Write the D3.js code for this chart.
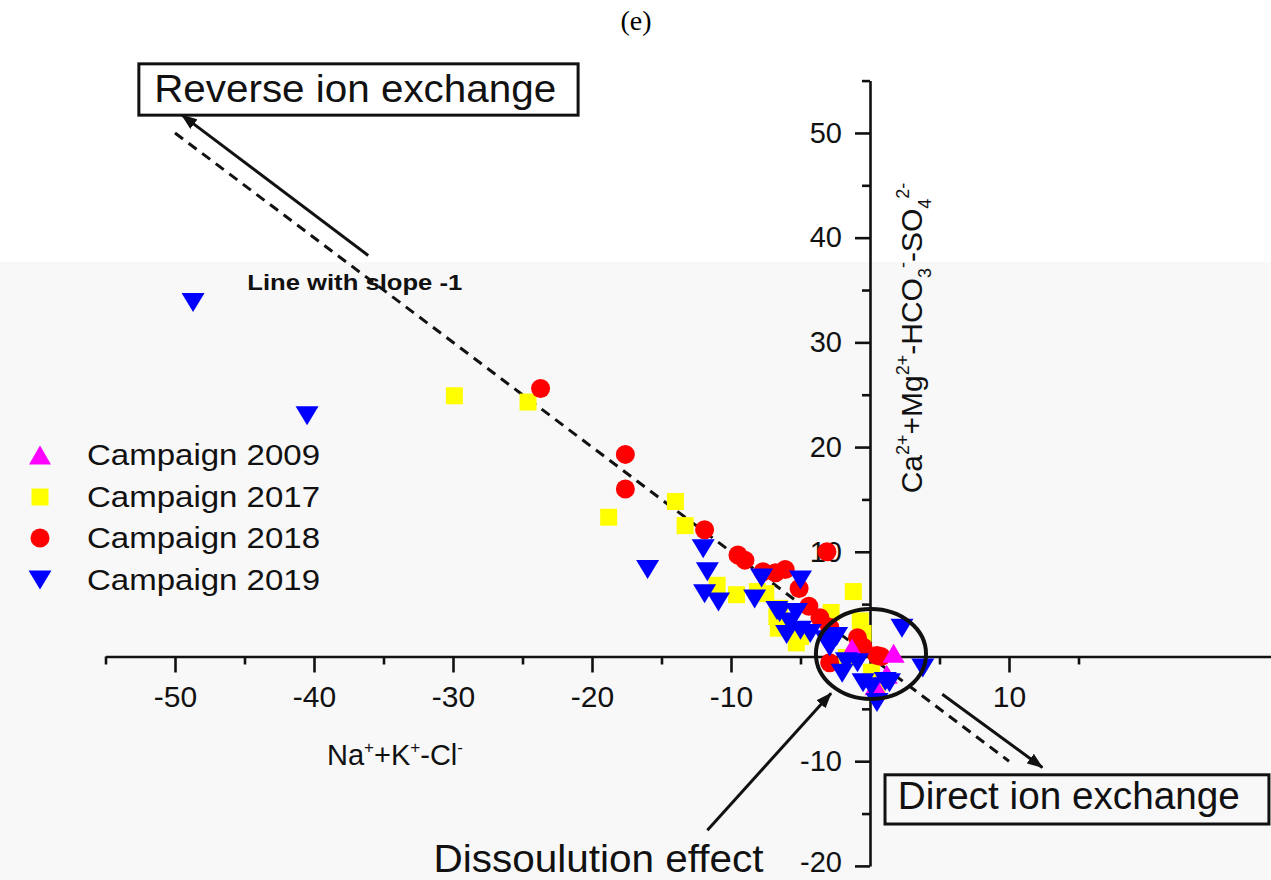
<!DOCTYPE html>
<html><head><meta charset="utf-8">
<script src="https://cdn.jsdelivr.net/npm/d3@7"></script>
<style>
body{margin:0;background:#fff;}
svg{display:block;font-family:"Liberation Sans",Arial,sans-serif;}
</style></head>
<body>
<svg id="chart" width="1271" height="880"></svg>
<script>
// ---------------- data ----------------
const seriesNames = ["Campaign 2009","Campaign 2017","Campaign 2018","Campaign 2019"];
const c2009 = [[1.7,0.3],[-1.3,0.8],[1.2,-1.7],[0.4,-2.8]];
const c2017 = [[-29.9,24.9],[-24.6,24.3],[-14.0,14.8],[-18.8,13.3],[-13.3,12.5],[-11.0,6.8],[-9.6,5.9],
  [-8.1,6.2],[-7.5,6.0],[-6.7,3.8],[-6.6,2.7],[-5.3,1.3],[-5.0,1.9],[-1.2,6.2],[-2.8,4.2],[-0.7,3.4],
  [-0.5,2.2],[0.1,-1.5],[0.5,-2.9],[-1.7,-0.1],[-6.5,4.6]];
const c2018 = [[-23.7,25.6],[-17.6,19.3],[-17.6,16.0],[-11.9,12.1],[-9.5,9.7],[-9.0,9.2],[-7.7,8.1],
  [-6.8,8.0],[-6.1,8.3],[-5.1,6.5],[-3.1,10.0],[-4.4,4.8],[-3.6,3.7],[-2.9,2.8],[-0.9,1.8],[-0.5,0.9],
  [0.5,0.1],[0.8,0.0],[-2.9,-0.6]];
const c2019 = [[-48.7,33.8],[-40.5,23.0],[-16.0,8.3],[-12.0,10.3],[-11.7,8.1],[-11.9,6.0],[-10.9,5.2],
  [-8.3,5.5],[-7.8,7.5],[-5.0,7.3],[-6.5,4.2],[-5.8,3.3],[-6.0,2.1],[-5.0,2.5],[-4.3,2.2],[-5.3,4.2],
  [-6.7,4.4],[-2.9,0.9],[-2.4,1.9],[-3.2,1.6],[-2.0,-1.6],[-1.7,-0.5],[-0.9,-0.6],[-0.5,-2.5],
  [0.5,-4.4],[1.1,-2.4],[1.4,-2.5],[0.1,-2.9],[2.3,2.7],[3.8,-1.1]];
const xMajorTicks = [-50,-40,-30,-20,-10,10];
const xMinorTicks = [-55,-45,-35,-25,-15,-5,5,15];
const yMajorTicks = [-20,-10,10,20,30,40,50];
const yMinorTicks = [-15,-5,5,15,25,35,45,55];
const slopeLine = [[-50,50],[10,-10]];
// annotations (data coordinates)
const arrowReverse = [[-36.1,38.3],[-49.5,51.7]];
const arrowDirect = [[5.2,-3.6],[12.4,-10.6]];
const arrowDissolution = [[-11.7,-16.6],[-2.8,-3.5]];

// ---------------- setup ----------------
const svg = d3.select("#chart");
const x = d3.scaleLinear().domain([-55,30]).range([105.5,1287]);
const y = d3.scaleLinear().domain([-20,55]).range([865.9,80.6]);

svg.append("rect").attr("x",0).attr("y",0).attr("width",1271).attr("height",880).attr("fill","#ffffff");
svg.append("rect").attr("x",0).attr("y",262).attr("width",1271).attr("height",618).attr("fill","#f8f8f8");

// title
svg.append("text").attr("x",636).attr("y",30).attr("text-anchor","middle")
  .style("font-family","'Liberation Serif','DejaVu Serif',serif").style("font-size","28px").text("(e)");

// axes
const x0 = x(0), y0 = y(0);
const fmt = d => String(d);
const gx = svg.append("g").attr("transform",`translate(0,${y0})`)
  .call(d3.axisBottom(x).tickValues(xMajorTicks).tickSize(16).tickSizeOuter(0).tickPadding(13).tickFormat(fmt));
const gxm = svg.append("g").attr("transform",`translate(0,${y0})`)
  .call(d3.axisBottom(x).tickValues(xMinorTicks).tickSize(8).tickSizeOuter(0).tickFormat(""));
const gy = svg.append("g").attr("transform",`translate(${x0},0)`)
  .call(d3.axisLeft(y).tickValues(yMajorTicks).tickSize(15).tickSizeOuter(0).tickPadding(13).tickFormat(fmt));
const gym = svg.append("g").attr("transform",`translate(${x0},0)`)
  .call(d3.axisLeft(y).tickValues(yMinorTicks).tickSize(8).tickSizeOuter(0).tickFormat(""));
[gx,gxm,gy,gym].forEach(g=>{
  g.selectAll("path,line").attr("stroke","#111").attr("stroke-width",2.6);
  g.selectAll("text").attr("fill","#111").style("font-size","30px").style("font-family","'Liberation Sans',Arial,sans-serif");
});
gy.selectAll("text").style("font-size","29px");
gy.selectAll(".tick").filter(d=>d===-20).select("text").attr("dy","0.2em");
gxm.select("path").remove(); gym.select("path").remove();

// axis titles
const xl = svg.append("text").attr("x",395).attr("y",765).attr("text-anchor","middle")
  .style("font-size","29px").attr("fill","#111");
xl.append("tspan").text("Na");
xl.append("tspan").attr("dy",-12).style("font-size","17px").text("+");
xl.append("tspan").attr("dy",12).text("+K");
xl.append("tspan").attr("dy",-12).style("font-size","17px").text("+");
xl.append("tspan").attr("dy",12).text("-Cl");
xl.append("tspan").attr("dy",-12).style("font-size","17px").text("-");

const yl = svg.append("text").attr("transform",`translate(922,338) rotate(-90)`).attr("text-anchor","middle")
  .style("font-size","30px").attr("fill","#111");
const sup = (t)=>{yl.append("tspan").attr("dy",-13).style("font-size","18px").text(t);};
const sub = (t)=>{yl.append("tspan").attr("dy",9).style("font-size","18px").text(t);};
yl.append("tspan").text("Ca"); sup("2+");
yl.append("tspan").attr("dy",13).text("+Mg"); sup("2+");
yl.append("tspan").attr("dy",13).text("-HCO"); sub("3");
yl.append("tspan").attr("dy",-22).style("font-size","18px").text("-");
yl.append("tspan").attr("dy",13).text("-SO"); sub("4");
yl.append("tspan").attr("dy",-22).style("font-size","18px").text("2-");

// dashed slope line
svg.append("path").attr("d",d3.line().x(d=>x(d[0])).y(d=>y(d[1]))(slopeLine))
  .attr("stroke","#111").attr("stroke-width",3).attr("stroke-dasharray","10,7").attr("fill","none");
svg.append("text").attr("x",x(-44.8)).attr("y",y(35.0)).style("font-size","22px").style("font-weight","bold")
  .attr("fill","#111").attr("textLength",215).attr("lengthAdjust","spacingAndGlyphs").text("Line with slope -1");

// markers
function tri(w,h,up){
  return up ? `M0,${-h/2}L${w/2},${h/2}L${-w/2},${h/2}Z` : `M0,${h/2}L${w/2},${-h/2}L${-w/2},${-h/2}Z`;
}
const shapes = [
  {data:c2009, color:"#ff00ff", draw:(g)=>g.append("path").attr("d",tri(22,19,true))},
  {data:c2017, color:"#ffff00", draw:(g)=>g.append("rect").attr("x",-8.5).attr("y",-8.5).attr("width",17).attr("height",17)},
  {data:c2018, color:"#ff0000", draw:(g)=>g.append("circle").attr("r",9.5)},
  {data:c2019, color:"#0000ff", draw:(g)=>g.append("path").attr("d",tri(23,19,false))}
];
const order = [1,2,0,3];
order.forEach(i=>{
  const s = shapes[i];
  const g = svg.append("g");
  s.data.forEach(d=>{
    const m = g.append("g").attr("transform",`translate(${x(d[0])},${y(d[1])})`);
    s.draw(m).attr("fill",s.color);
  });
});

// legend
const legY = [455,497,538,580];
seriesNames.forEach((n,i)=>{
  const m = svg.append("g").attr("transform",`translate(40,${legY[i]})`);
  shapes[i].draw(m).attr("fill",shapes[i].color);
  svg.append("text").attr("x",87).attr("y",legY[i]+10).style("font-size","29px").attr("fill","#111")
    .attr("textLength",233).attr("lengthAdjust","spacingAndGlyphs").text(n);
});

// arrow marker
const defs = svg.append("defs");
defs.append("marker").attr("id","ah").attr("viewBox","0 0 16 12").attr("refX",15).attr("refY",6)
  .attr("markerWidth",16).attr("markerHeight",12).attr("markerUnits","userSpaceOnUse").attr("orient","auto")
  .append("path").attr("d","M0,0L16,6L0,12Z").attr("fill","#111");
[arrowReverse,arrowDirect,arrowDissolution].forEach(a=>{
  svg.append("line").attr("x1",x(a[0][0])).attr("y1",y(a[0][1])).attr("x2",x(a[1][0])).attr("y2",y(a[1][1]))
    .attr("stroke","#111").attr("stroke-width",3).attr("marker-end","url(#ah)");
});

// ellipse
svg.append("ellipse").attr("cx",x(0.07)).attr("cy",y(0.24)).attr("rx",x(3.96)-x(0)).attr("ry",y(0)-y(4.3))
  .attr("fill","none").attr("stroke","#111").attr("stroke-width",4);

// boxes
function box(x1,y1,x2,y2){
  svg.append("rect").attr("x",x(x1)).attr("y",y(y1)).attr("width",x(x2)-x(x1)).attr("height",y(y2)-y(y1))
    .attr("fill","none").attr("stroke","#111").attr("stroke-width",3);
}
box(-52.6,56.6,-21.0,51.7);
svg.append("text").attr("x",x(-51.5)).attr("y",y(53.0)).style("font-size","38px").attr("fill","#111")
  .attr("textLength",402).attr("lengthAdjust","spacingAndGlyphs").text("Reverse ion exchange");
box(1.08,-11.3,28.7,-16.0);
svg.append("text").attr("x",x(2.0)).attr("y",y(-14.6)).style("font-size","38px").attr("fill","#111")
  .attr("textLength",342).attr("lengthAdjust","spacingAndGlyphs").text("Direct ion exchange");
svg.append("text").attr("x",x(-31.4)).attr("y",y(-20.6)).style("font-size","38px").attr("fill","#111")
  .attr("textLength",330).attr("lengthAdjust","spacingAndGlyphs").text("Dissoulution effect");
</script>
</body></html>
